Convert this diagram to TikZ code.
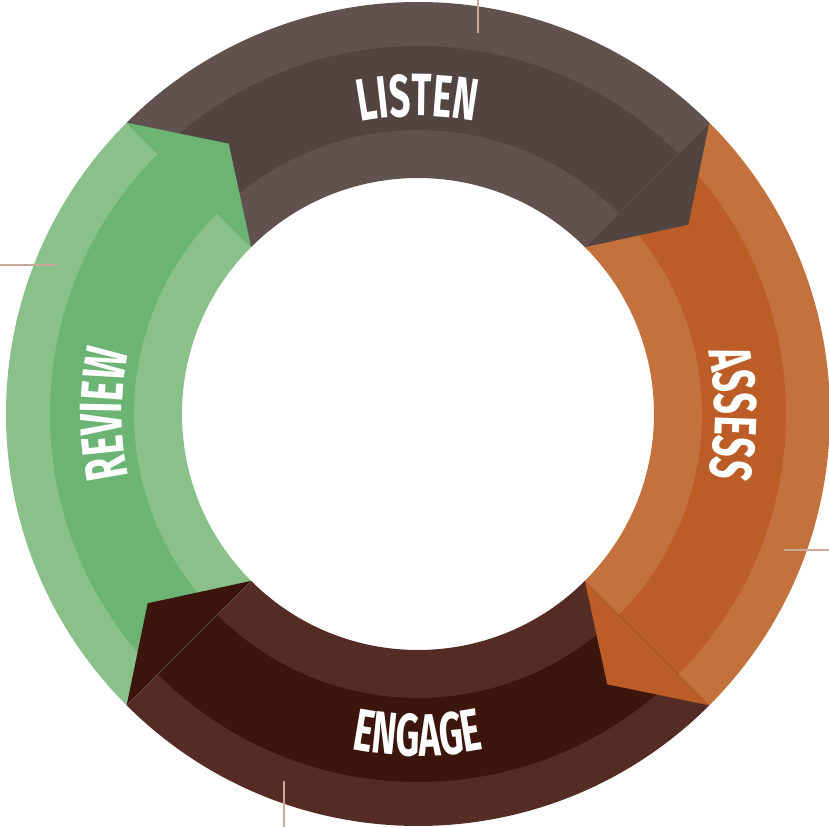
\documentclass[tikz,border=0pt]{standalone}
\usepackage{fontspec}
\usetikzlibrary{decorations.text}

\newfontfamily\lblfont[FakeStretch=0.62]{Fira Sans}
\newcommand{\steplabel}{\lblfont\bfseries\fontsize{17}{17}\selectfont\color{white}}

\definecolor{listenlight}{HTML}{62524F}
\definecolor{listendark}{HTML}{514441}
\definecolor{assesslight}{HTML}{C4723D}
\definecolor{assessdark}{HTML}{BC5D28}
\definecolor{engagelight}{HTML}{552B25}
\definecolor{engagedark}{HTML}{3C160D}
\definecolor{reviewlight}{HTML}{8AC18A}
\definecolor{reviewdark}{HTML}{6BB473}
\definecolor{guidecol}{HTML}{C9AA98}

\begin{document}
\begin{tikzpicture}[x=0.01cm, y=0.01cm, guide/.style={draw=guidecol, line width=0.6pt}]

 \useasboundingbox (-418,-413) rectangle (411,414);

 % bands
 \foreach \a/\lt/\dk in {135/listenlight/listendark, 45/assesslight/assessdark, -45/engagelight/engagedark, -135/reviewlight/reviewdark} {
         \fill[\lt] (\a:412) arc[start angle=\a, delta angle=-90, radius=412] -- ({\a-90}:236) arc[start angle=\a-90, delta angle=90, radius=236] -- cycle;
         \fill[\dk] (\a:368) arc[start angle=\a, delta angle=-90, radius=368] -- ({\a-90}:284) arc[start angle=\a-90, delta angle=90, radius=284] -- cycle;
 }

 % heads
 \foreach \a/\dk in {135/listendark, 45/assessdark, -45/engagedark, -135/reviewdark}
         \fill[\dk] ({\a-90}:412) -- ({\a-100}:330) -- ({\a-90}:236) -- cycle;

 % guides
 \draw[guide] (60,414) -- (60,381);
 \draw[guide] (-418,149) -- (-362,149);
 \draw[guide] (366,-136) -- (411,-136);
 \draw[guide] (-134,-367) -- (-134,-413);

 % labels
 \path[decorate, decoration={text along path, text={|\steplabel|LISTEN}, text align=center}] (115:298) arc[start angle=115, end angle=65, radius=298];
 \path[decorate, decoration={text along path, text={|\steplabel|ASSESS}, text align=center}] (25:297) arc[start angle=25, end angle=-25, radius=297];
 \path[decorate, decoration={text along path, text={|\steplabel|ENGAGE}, text align=center}] (-115:342) arc[start angle=-115, end angle=-65, radius=342];
 \path[decorate, decoration={text along path, text={|\steplabel|REVIEW}, text align=center}] (205:296) arc[start angle=205, end angle=155, radius=296];

\end{tikzpicture}
\end{document}
